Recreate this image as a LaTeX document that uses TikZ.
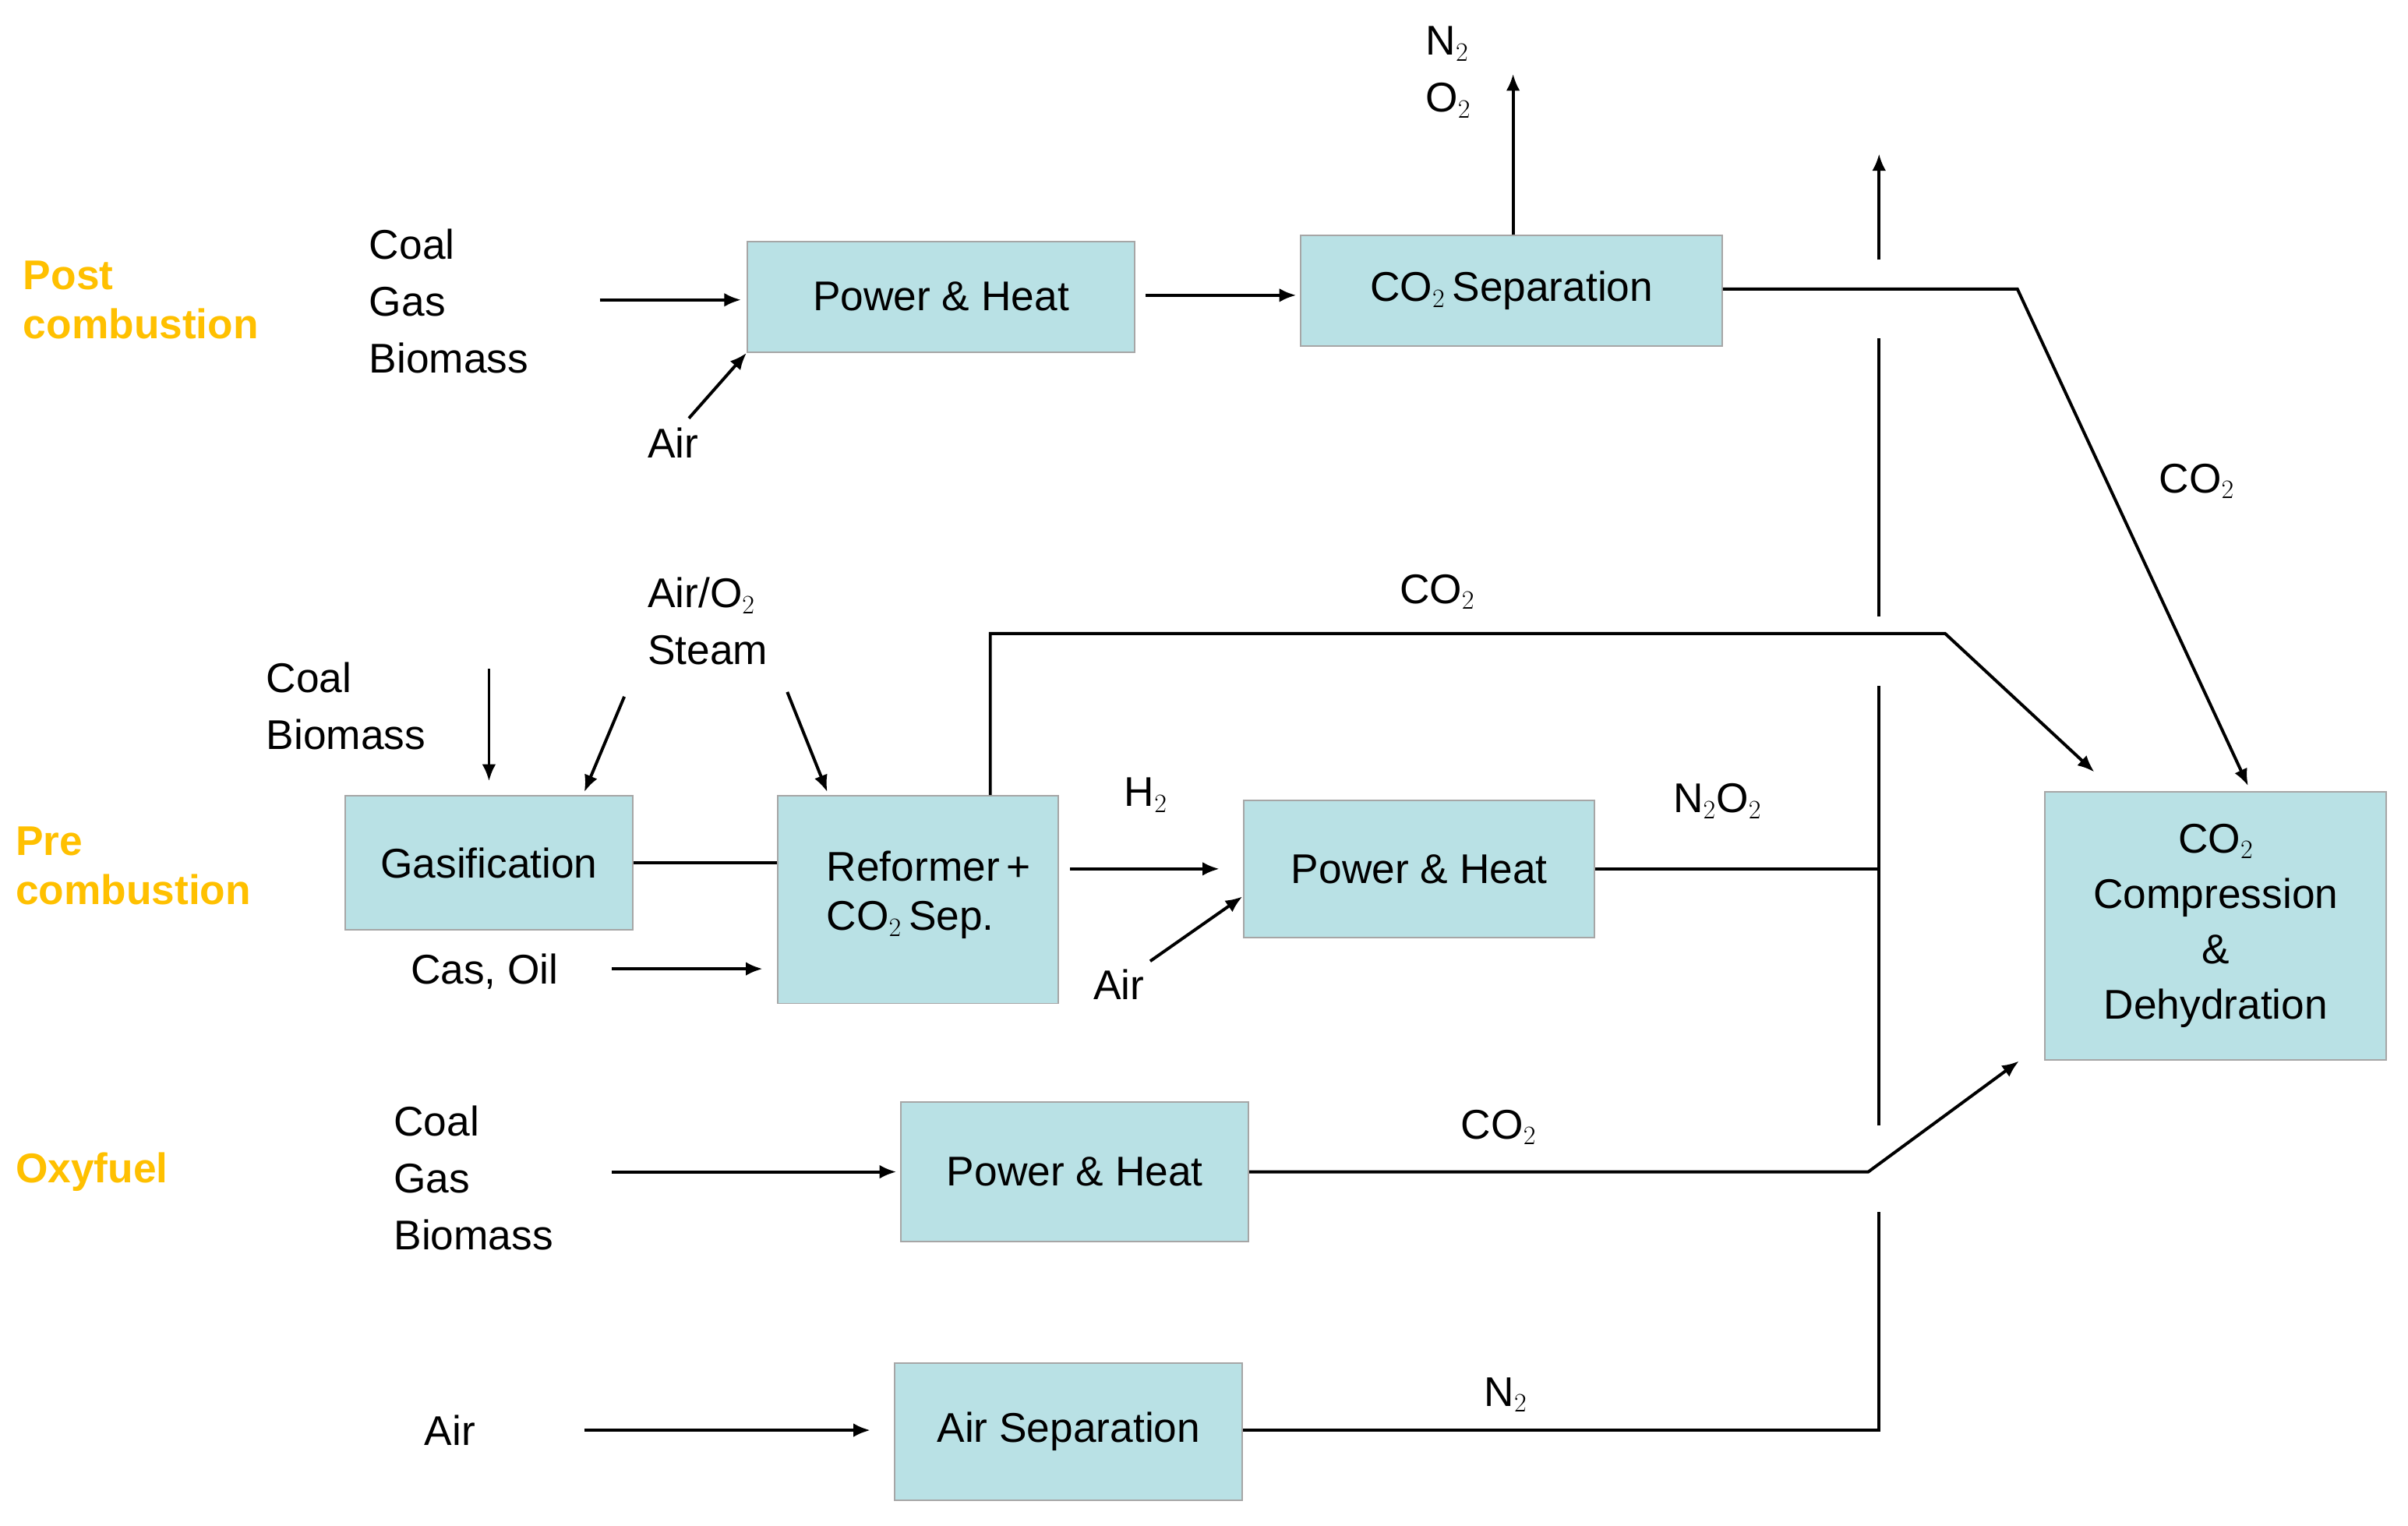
\documentclass[tikz,border=0pt]{standalone}
\usepackage{fontspec}
\setmainfont{Liberation Sans}
\begin{document}
\begin{tikzpicture}[x=1pt,y=-1pt,
  box/.style={draw=black!35,fill={rgb,255:red,185;green,225;blue,229},line width=1pt,inner sep=0pt},
  lbl/.style={font=\fontsize{27}{32}\selectfont,align=left,anchor=west,inner sep=0pt},
  cat/.style={font=\fontsize{27}{32}\selectfont\bfseries,text={rgb,255:red,255;green,192;blue,0},align=left,anchor=west,inner sep=0pt},
  bt/.style={font=\fontsize{27}{32}\selectfont,align=center,inner sep=0pt},
  ln/.style={line width=2pt},
  ar/.style={line width=2pt,-{Latex[length=11pt,width=9pt]}}]
\useasboundingbox (0,0) rectangle (1566,992);
\usetikzlibrary{arrows.meta}
% labels
\node[cat] (post) at (15,195) {Post\\combustion};
\node[cat] (pre) at (10,563) {Pre\\combustion};
\node[cat] (oxy) at (10,762) {Oxyfuel};
% boxes
\node[box,minimum width=252,minimum height=72] (ph1) at (612,193) {};
\node[bt] at (ph1) {Power \& Heat};
\node[box,minimum width=274,minimum height=72] (sep) at (983,189) {};
\node[bt] at (sep) {CO$_2$\,Separation};
\node[box,minimum width=187,minimum height=87] (gas) at (318,561) {};
\node[bt] at (gas) {Gasification};
\node[box,minimum width=182,minimum height=135] (ref) at (597,585) {};
\node[bt,align=left] at (604,582) {Reformer\,+\\CO$_2$\,Sep.};
\node[box,minimum width=228,minimum height=89] (ph2) at (923,565) {};
\node[bt] at (ph2) {Power \& Heat};
\node[box,minimum width=222,minimum height=174] (comp) at (1441,602) {};
\node[bt,font=\fontsize{27}{36}\selectfont] at (comp) {CO$_2$\\Compression\\\&\\Dehydration};
\node[box,minimum width=226,minimum height=91] (ph3) at (699,762) {};
\node[bt] at (ph3) {Power \& Heat};
\node[box,minimum width=226,minimum height=89] (asep) at (695,931) {};
\node[bt] at (asep) {Air Separation};
% text
\node[lbl,align=left,font=\fontsize{27}{37}\selectfont] (f1) at (240,196) {Coal\\Gas\\Biomass};
\node[lbl] (air1) at (421,288) {Air};
\node[lbl,align=left,font=\fontsize{27}{37}\selectfont] (no) at (927,47) {N$_2$\\O$_2$};
\node[lbl] (c1) at (1404,313) {CO$_2$};
\node[lbl,align=left,font=\fontsize{27}{37}\selectfont] (f2) at (173,459) {Coal\\Biomass};
\node[lbl,align=left,font=\fontsize{27}{37}\selectfont] (f3) at (421,404) {Air/O$_2$\\Steam};
\node[lbl] (oil) at (267,632) {Cas, Oil};
\node[lbl] (c2) at (910,385) {CO$_2$};
\node[lbl] (h2) at (731,517) {H$_2$};
\node[lbl] (air2) at (711,640) {Air};
\node[lbl] (no2) at (1088,521) {N$_2$O$_2$};
\node[lbl,align=left,font=\fontsize{27}{37}\selectfont] (f4) at (256,766) {Coal\\Gas\\Biomass};
\node[lbl] (c3) at (950,733) {CO$_2$};
\node[lbl] (air3) at (276,930) {Air};
\node[lbl] (n2) at (965,907) {N$_2$};
% coordinates
\coordinate (a1s) at (390,195); \coordinate (a1e) at (482,195);
\coordinate (airs) at (448,272);
\coordinate (s1) at (745,192); \coordinate (s1e) at (843,192);
\coordinate (up) at (984,48);
\coordinate (k1) at (1312,188); \coordinate (t1) at (1462,511);
\coordinate (gs) at (318,435); \coordinate (ge) at (318,508);
\coordinate (st1) at (406,453); \coordinate (st1e) at (380,515);
\coordinate (st2) at (512,450); \coordinate (st2e) at (538,515);
\coordinate (os) at (398,630); \coordinate (oe) at (496,630);
\coordinate (r1) at (644,412); \coordinate (r2) at (1265,412); \coordinate (t2) at (1362,502);
\coordinate (hs) at (696,565); \coordinate (he) at (793,565);
\coordinate (as2) at (748,625); \coordinate (ae2) at (808,583);
\coordinate (v1) at (1222,565);
\coordinate (xs) at (398,762); \coordinate (xe) at (583,762);
\coordinate (k3) at (1215,762); \coordinate (t3) at (1313,690);
\coordinate (ys) at (380,930); \coordinate (ye) at (566,930);
\coordinate (v2) at (1222,930);
% connectors
\draw[ar] (a1s) -- (a1e);
\draw[ar] (airs) -- (ph1.south west);
\draw[ar] (s1) -- (s1e);
\draw[ar] (sep.north -| up) -- (up);
\draw[ar] (sep.east |- k1) -- (k1) -- (t1);
\draw[ar] (gs) -- (ge);
\draw[ar] (st1) -- (st1e);
\draw[ar] (st2) -- (st2e);
\draw[ln] (gas.east) -- (ref.west |- gas.east);
\draw[ar] (os) -- (oe);
\draw[ar] (ref.north -| r1) -- (r1) -- (r2) -- (t2);
\draw[ar] (hs) -- (he);
\draw[ar] (as2) -- (ae2);
\draw[ln] (ph2.east) -- (v1);
\draw[ar] (xs) -- (xe);
\draw[ar] (ph3.east) -- (k3) -- (t3);
\draw[ar] (ys) -- (ye);
\draw[ln] (asep.east |- v2) -- (v2) -- (1222,788);
\draw[ln] (1222,732) -- (1222,446);
\draw[ln] (1222,401) -- (1222,220);
\draw[ar] (1222,169) -- (1222,100);
\end{tikzpicture}
\end{document}
